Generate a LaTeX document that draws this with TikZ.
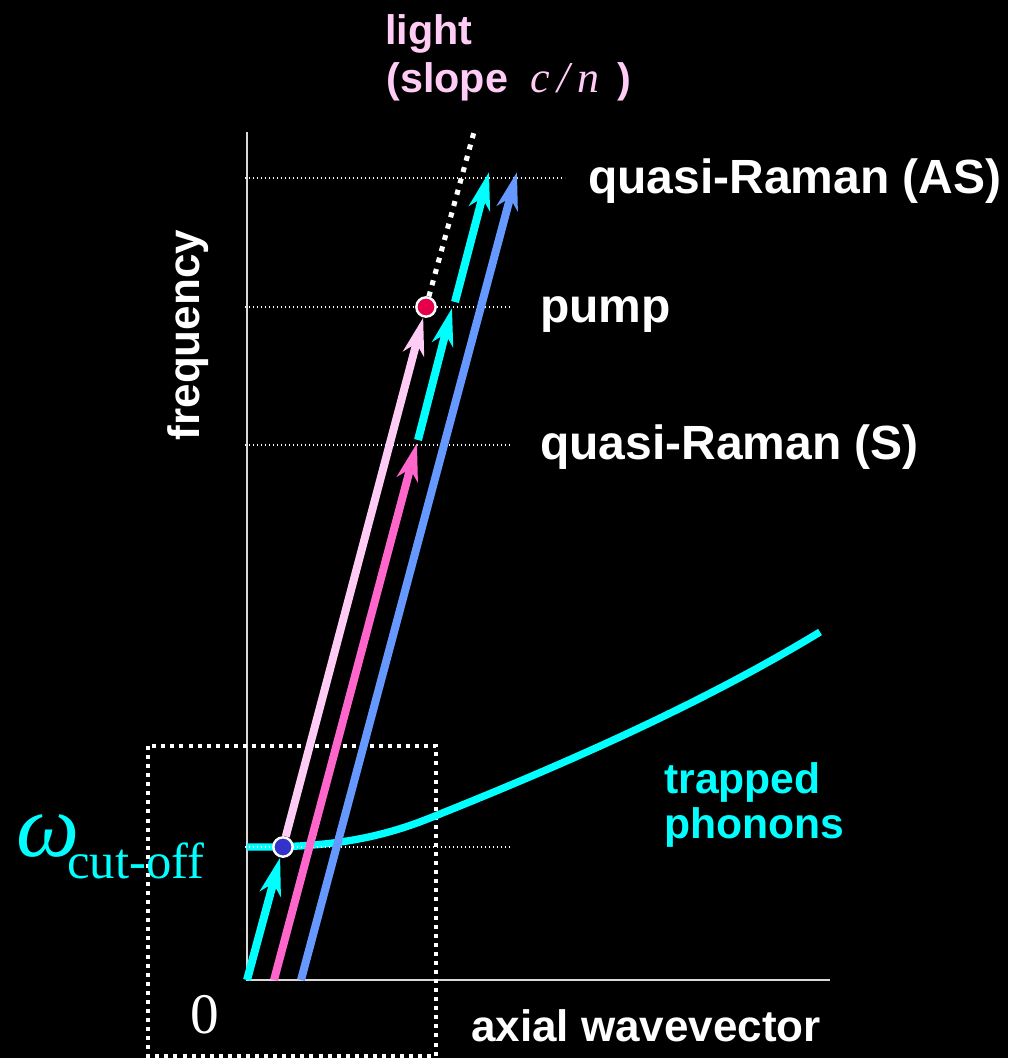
\documentclass[tikz,border=0pt]{standalone}
\usepackage{fontspec}
\setmainfont{Liberation Sans}
\newfontfamily\timesfont{Liberation Serif}
\usetikzlibrary{arrows.meta}
\definecolor{lightpink}{RGB}{255,204,245}
\definecolor{hotpink}{RGB}{255,102,204}
\definecolor{phononcyan}{RGB}{0,255,255}
\definecolor{waveblue}{RGB}{102,153,255}
\definecolor{pumpred}{RGB}{230,0,76}
\definecolor{cutblue}{RGB}{51,51,204}
\tikzset{
  wvarrow/.style={-{Stealth[length=28pt,width=16pt,inset=8pt]}, line width=6pt},
  axisline/.style={white!85!black, line width=1.5pt},
  gridline/.style={white, line width=1pt, dash pattern=on 1pt off 2pt},
  boxline/.style={white, line width=3pt, dash pattern=on 3pt off 3.8pt},
  dotnode/.style={circle, draw=white, line width=1.8pt, minimum size=14.5pt, inner sep=0pt},
  biglabel/.style={text=white, font=\fontsize{36}{40}\selectfont\bfseries, anchor=base west, inner sep=0pt},
  axislabel/.style={text=white, font=\fontsize{33}{38}\selectfont\bfseries, inner sep=0pt}
}

\begin{document}
\begin{tikzpicture}[x=0.75pt, y=-0.75pt]
    \fill[black] (0,0) rectangle (1008,1058);
    \useasboundingbox (0,0) rectangle (1008,1058);
    \coordinate (O) at (247,980);
    \coordinate (ytop) at (247,132);
    \coordinate (xend) at (830,980);
    \draw[axisline] (ytop) -- (O) -- (xend);
    \draw[boxline] (148,746) rectangle (436,1056);
    \draw[phononcyan, line width=5.5pt] (247,847) .. controls (330,848) and (380,838) .. (430,818)
      .. controls (560,766) and (700,705) .. (820,632);
    \draw[gridline] (245,178) -- (565,178);
    \draw[gridline] (245,307) -- (510,307);
    \draw[gridline] (245,445) -- (510,445);
    \draw[gridline] (245,847) -- (510,847);
    \node[dotnode, fill=cutblue] (cutdot) at (283,847) {};
    \node[dotnode, fill=pumpred] (pumpdot) at (426,307) {};
    \coordinate (lighttop) at (474,132);
    \coordinate (pinkbot) at (274,980);
    \coordinate (pinktop) at (417,443);
    \coordinate (blubot) at (301,980);
    \coordinate (blutop) at (517,172);
    \coordinate (cyanabot) at (418,440);
    \coordinate (cyanatop) at (452,308);
    \coordinate (cyanbbot) at (455,302);
    \coordinate (cyanbtop) at (489,172);
    \draw[white, line width=3.8pt, dash pattern=on 3.8pt off 5pt] (pumpdot) -- (lighttop);
    \draw[wvarrow, lightpink] (cutdot) -- (pumpdot);
    \draw[wvarrow, hotpink] (pinkbot) -- (pinktop);
    \draw[wvarrow, waveblue] (blubot) -- (blutop);
    \draw[wvarrow, phononcyan] (O) -- (cutdot);
    \draw[wvarrow, phononcyan] (cyanabot) -- (cyanatop);
    \draw[wvarrow, phononcyan] (cyanbbot) -- (cyanbtop);
    \node[text=lightpink, font=\fontsize{31}{36}\selectfont\bfseries, anchor=base west, inner sep=0pt] (lbllight) at (385,44) {light};
    \node[text=lightpink, font=\fontsize{31}{36}\selectfont\bfseries, anchor=base west, inner sep=0pt] (lblslope) at (386,92) {(slope \ {\timesfont\mdseries\itshape\fontsize{33}{36}\selectfont c\,/\,n}\ \,)};
    \node[biglabel] (lblas) at (588,193) {quasi-Raman (AS)};
    \node[biglabel] (lblpump) at (540,322) {pump};
    \node[biglabel] (lbls) at (540,459) {quasi-Raman (S)};
    \node[axislabel, rotate=90] (lblfreq) at (188,335) {frequency};
    \node[axislabel, anchor=base] (lblaxial) at (646,1041) {axial wavevector};
    \node[axislabel, text=phononcyan, align=left, anchor=west, font=\fontsize{32}{34}\selectfont\bfseries] (lbltrapped) at (664,805) {trapped\\phonons};
    \node[text=phononcyan, anchor=base west, inner sep=0pt] (lblomega) at (16,856)
      {{\timesfont\itshape\fontsize{67}{70}\selectfont ω}\kern-9pt\raisebox{-17pt}{\timesfont\fontsize{38}{40}\selectfont cut-off}};
    \node[text=white, font=\timesfont\fontsize{43}{46}\selectfont, inner sep=0pt] (lblzero) at (205,1015) {0};
  \end{tikzpicture}
\end{document}
